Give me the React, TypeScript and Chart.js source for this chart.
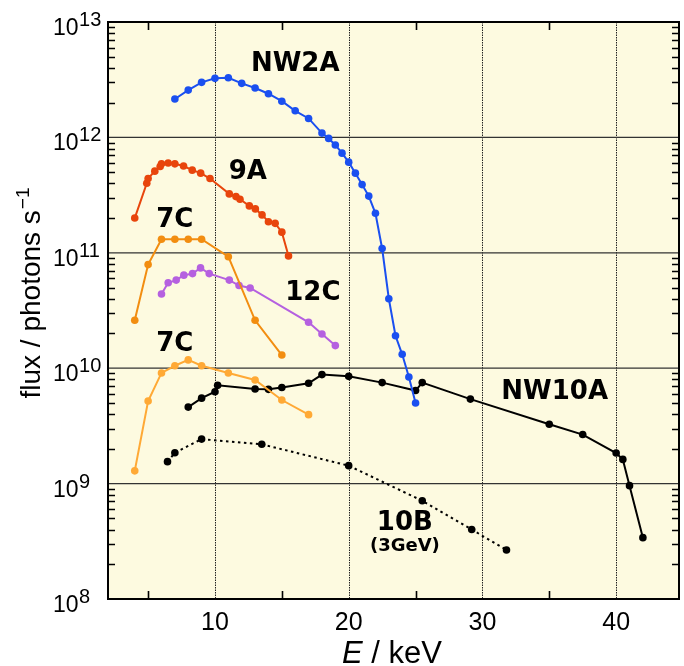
import React, { useEffect, useRef } from "react";
import { Chart, registerables } from "chart.js";

Chart.register(...registerables);

// ---------- data ----------
const nw2aEnergy = [7, 8, 9, 10, 11, 12, 13, 14, 15, 16, 17, 18, 18.5, 19, 19.5, 20, 20.5, 21, 21.5, 22, 22.5, 23, 23.5, 24, 24.5, 25];
const nw2aFlux = [2.15e12, 2.57e12, 3.0e12, 3.25e12, 3.29e12, 2.94e12, 2.68e12, 2.39e12, 2.06e12, 1.7e12, 1.46e12, 1.09e12, 9.8e11, 8.6e11, 7.3e11, 6.1e11, 4.9e11, 3.9e11, 3.1e11, 2.2e11, 1.09e11, 4.0e10, 1.91e10, 1.32e10, 8.4e9, 5.0e9];

const bl9aEnergy = [4, 4.9, 5.0, 5.5, 5.9, 6.0, 6.5, 7.0, 7.65, 8.3, 8.93, 9.63, 11.07, 11.57, 11.87, 12.57, 13.02, 13.52, 14.0, 14.5, 15.0, 15.5];
const bl9aFlux = [2.0e11, 4.0e11, 4.4e11, 5.1e11, 5.6e11, 5.9e11, 6.0e11, 5.9e11, 5.65e11, 5.2e11, 4.9e11, 4.4e11, 3.24e11, 3.07e11, 2.91e11, 2.55e11, 2.4e11, 2.13e11, 1.86e11, 1.8e11, 1.51e11, 9.4e10];

const bl7cUpperEnergy = [4, 5, 6, 7, 8, 9, 11, 13, 15];
const bl7cUpperFlux = [2.6e10, 7.9e10, 1.31e11, 1.31e11, 1.31e11, 1.31e11, 9.25e10, 2.6e10, 1.3e10];

const bl12cEnergy = [6, 6.5, 7.1, 7.67, 8.32, 8.92, 9.57, 11.07, 11.8, 12.63, 17.0, 18.0, 19.0];
const bl12cFlux = [4.4e10, 5.5e10, 5.8e10, 6.4e10, 6.6e10, 7.4e10, 6.6e10, 5.8e10, 5.2e10, 4.96e10, 2.5e10, 1.98e10, 1.57e10];

const bl7cLowerEnergy = [4, 5, 6, 7, 8, 9, 11, 13, 15, 17];
const bl7cLowerFlux = [1.29e9, 5.2e9, 9.1e9, 1.05e10, 1.18e10, 1.05e10, 9.1e9, 7.9e9, 5.3e9, 3.96e9];

const nw10aEnergy = [8, 9, 10, 10.2, 13, 14, 15, 17, 18, 20, 22.5, 25, 25.5, 29.1, 35, 37.5, 40, 40.5, 41, 42];
const nw10aFlux = [4.6e9, 5.5e9, 6.25e9, 7.1e9, 6.6e9, 6.56e9, 6.8e9, 7.4e9, 8.8e9, 8.5e9, 7.5e9, 6.4e9, 7.5e9, 5.4e9, 3.27e9, 2.66e9, 1.84e9, 1.62e9, 9.6e8, 3.4e8];

const bl10bEnergy = [6.45, 7, 9, 13.5, 20, 25.5, 29.2, 31.8];
const bl10bFlux = [1.55e9, 1.85e9, 2.43e9, 2.19e9, 1.43e9, 7.1e8, 4.0e8, 2.66e8];

// axis ticks
const xMin = 2;
const xMax = 44.7;
const xMajorTicks = [10, 20, 30, 40];
const xTickLabels = ["10", "20", "30", "40"];
const xMinorTicks = [5, 15, 25, 35];
const yExponents = [8, 9, 10, 11, 12, 13];
const yMinorMultipliers = [2, 3, 4, 5, 6, 7, 8, 9];
const yTickBase = "10";

// series labels (text + anchor in data coordinates)
const labelTexts = ["NW2A", "9A", "7C", "12C", "7C", "NW10A", "10B", "(3GeV)"];
const labelEnergy = [16, 12.46, 7.0, 17.32, 7.0, 35.4, 24.2, 24.2];
const labelFlux = [4.33e12, 5.0e11, 1.92e11, 4.5e10, 1.62e10, 6.2e9, 4.56e8, 2.88e8];
const labelSizes = [26, 26, 26, 26, 26, 26, 26, 18];

const BG = "#fdfae0";

function pts(xs: number[], ys: number[]) {
  return xs.map((x, i) => ({ x, y: ys[i] }));
}

const customDraw = {
  id: "customDraw",
  beforeDatasetsDraw(chart: any) {
    const { ctx, chartArea: a, scales } = chart;
    const xs = scales.x;
    const ys = scales.y;
    ctx.save();
    ctx.fillStyle = BG;
    ctx.fillRect(a.left, a.top, a.right - a.left, a.bottom - a.top);
    // x grid: dotted
    ctx.strokeStyle = "#222";
    ctx.lineWidth = 1;
    ctx.setLineDash([1.5, 1]);
    xMajorTicks.forEach((v) => {
      const px = Math.round(xs.getPixelForValue(v)) + 0.5;
      ctx.beginPath();
      ctx.moveTo(px, a.top);
      ctx.lineTo(px, a.bottom);
      ctx.stroke();
    });
    ctx.setLineDash([]);
    // y grid: solid at decades
    ctx.strokeStyle = "#333";
    ctx.lineWidth = 1.3;
    yExponents.forEach((e) => {
      const py = ys.getPixelForValue(Math.pow(10, e));
      ctx.beginPath();
      ctx.moveTo(a.left, py);
      ctx.lineTo(a.right, py);
      ctx.stroke();
    });
    ctx.restore();
  },
  afterDraw(chart: any) {
    const { ctx, chartArea: a, scales } = chart;
    const xs = scales.x;
    const ys = scales.y;
    ctx.save();
    ctx.setLineDash([]);
    // frame
    ctx.strokeStyle = "#000";
    ctx.lineWidth = 2;
    ctx.strokeRect(a.left, a.top, a.right - a.left, a.bottom - a.top);
    // minor ticks, pointing inward
    ctx.lineWidth = 1.6;
    ctx.beginPath();
    for (let i = 0; i < yExponents.length - 1; i++) {
      const base = Math.pow(10, yExponents[i]);
      yMinorMultipliers.forEach((m) => {
        const py = Math.round(ys.getPixelForValue(m * base)) + 0.5;
        ctx.moveTo(a.left, py);
        ctx.lineTo(a.left + 7, py);
        ctx.moveTo(a.right, py);
        ctx.lineTo(a.right - 7, py);
      });
    }
    xMinorTicks.forEach((v) => {
      const px = Math.round(xs.getPixelForValue(v)) + 0.5;
      ctx.moveTo(px, a.bottom);
      ctx.lineTo(px, a.bottom - 8);
      ctx.moveTo(px, a.top);
      ctx.lineTo(px, a.top + 8);
    });
    ctx.stroke();
    // y tick labels 10^n
    ctx.fillStyle = "#000";
    ctx.textBaseline = "alphabetic";
    ctx.textAlign = "left";
    yExponents.forEach((e) => {
      const py = ys.getPixelForValue(Math.pow(10, e));
      ctx.font = "23px 'Liberation Sans', Arial, sans-serif";
      const bw = ctx.measureText(yTickBase).width;
      ctx.fillText(yTickBase, 53, py + 13);
      ctx.font = "20px 'Liberation Sans', Arial, sans-serif";
      ctx.fillText(String(e), 53 + bw + 0.5, py + 4);
    });
    // x tick labels
    ctx.textAlign = "center";
    ctx.font = "25px 'Liberation Sans', Arial, sans-serif";
    xMajorTicks.forEach((v, i) => {
      ctx.fillText(xTickLabels[i], xs.getPixelForValue(v), a.bottom + 31);
    });
    // x title: E / keV
    ctx.textAlign = "left";
    const f1 = "italic 31px 'Liberation Sans', Arial, sans-serif";
    const f2 = "31px 'Liberation Sans', Arial, sans-serif";
    ctx.font = f1;
    const wE = ctx.measureText("E").width;
    ctx.font = f2;
    const wRest = ctx.measureText(" / keV").width;
    const xStart = 392 - (wE + wRest) / 2;
    ctx.font = f1;
    ctx.fillText("E", xStart, 663);
    ctx.font = f2;
    ctx.fillText(" / keV", xStart + wE, 663);
    // y title
    ctx.save();
    ctx.translate(40, 293);
    ctx.rotate(-Math.PI / 2);
    const g1 = "28px 'Liberation Sans', Arial, sans-serif";
    const g2 = "19px 'Liberation Sans', Arial, sans-serif";
    ctx.font = g1;
    const main = "flux / photons s";
    const wm = ctx.measureText(main).width;
    ctx.font = g2;
    const sup = "\u22121";
    const ws = ctx.measureText(sup).width;
    const start = -(wm + ws + 1) / 2;
    ctx.font = g1;
    ctx.fillText(main, start, 0);
    ctx.font = g2;
    ctx.fillText(sup, start + wm + 1, -11);
    ctx.restore();
    // series labels
    ctx.textAlign = "center";
    ctx.textBaseline = "middle";
    labelTexts.forEach((t, i) => {
      ctx.font = `bold ${labelSizes[i]}px 'DejaVu Sans', Verdana, sans-serif`;
      ctx.fillText(t, xs.getPixelForValue(labelEnergy[i]), ys.getPixelForValue(labelFlux[i]));
    });
    ctx.restore();
  },
};

function lineDs(label: string, xsArr: number[], ysArr: number[], color: string, dash?: number[]) {
  return {
    label,
    data: pts(xsArr, ysArr),
    borderColor: color,
    backgroundColor: color,
    borderWidth: 2,
    borderDash: dash || [],
    pointRadius: 3.8,
    pointBorderWidth: 0,
    pointBackgroundColor: color,
    tension: 0,
    fill: false,
  };
}

export default function App() {
  const ref = useRef<HTMLCanvasElement | null>(null);
  useEffect(() => {
    if (!ref.current) return;
    const chart = new Chart(ref.current, {
      type: "line",
      data: {
        datasets: [
          lineDs("NW2A", nw2aEnergy, nw2aFlux, "#1a4ff0"),
          lineDs("9A", bl9aEnergy, bl9aFlux, "#e8450c"),
          lineDs("7C", bl7cUpperEnergy, bl7cUpperFlux, "#f28d10"),
          lineDs("12C", bl12cEnergy, bl12cFlux, "#b560e0"),
          lineDs("7C low", bl7cLowerEnergy, bl7cLowerFlux, "#ffa935"),
          lineDs("NW10A", nw10aEnergy, nw10aFlux, "#000000"),
          lineDs("10B", bl10bEnergy, bl10bFlux, "#000000", [2.5, 3.5]),
        ],
      },
      options: {
        responsive: false,
        animation: false,
        devicePixelRatio: 1,
        layout: { padding: { left: 108, top: 22, right: 5, bottom: 67 } },
        plugins: { legend: { display: false }, tooltip: { enabled: false } },
        scales: {
          x: { type: "linear", min: xMin, max: xMax, display: false },
          y: { type: "logarithmic", min: 1e8, max: 1e13, display: false },
        },
      },
      plugins: [customDraw],
    });
    return () => chart.destroy();
  }, []);
  return (
    <div style={{ position: "absolute", left: 0, top: 0, width: 684, height: 666, background: "#fff" }}>
      <canvas ref={ref} width={684} height={666} style={{ width: 684, height: 666, display: "block" }} />
    </div>
  );
}
